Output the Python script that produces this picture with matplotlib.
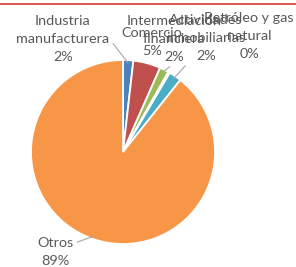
import numpy as np
import matplotlib
matplotlib.use('Agg')
import matplotlib.pyplot as plt
from matplotlib.lines import Line2D

# sector shares (%)
sectores = ['Industria\nmanufacturera', 'Comercio', 'Intermediación\nfinanciera',
            'Petróleo y gas\nnatural', 'Actividades\ninmobiliarias', 'Otros']
valores = [1.8, 4.8, 1.6, 0.3, 2.2, 89.3]
colores = ['#4F81BD', '#C0504D', '#9BBB59', '#8064A2', '#4BACC6', '#F79646']

# label centre positions in figure pixels (from top-left) and where the leader leaves the text
label_pos = [(63, 39), (152, 42), (174, 39), (249, 36), (206, 38), (55, 252)]
leader_rel = [(1.0, 0.5), None, (0.5, 0.0), None, (0.3, 0.03), (1.0, 0.78)]

plt.rcParams['font.family'] = ['Lato', 'DejaVu Sans']

W, H = 296, 267
fig = plt.figure(figsize=(W / 100, H / 100), dpi=100)
cx, cy, r = 123, 152, 92
ax = fig.add_axes([(cx - r) / W, (H - cy - r) / H, 2 * r / W, 2 * r / H])
wedges, _ = ax.pie(valores, colors=colores, startangle=90, counterclock=False,
                   wedgeprops=dict(edgecolor='white', linewidth=1.3))
ax.set_xlim(-1, 1)
ax.set_ylim(-1, 1)
ax.set_aspect('equal')
ax.axis('off')

fs = 10.4
ls = 1.6
for w, nombre, v, (lx, ly), rel in zip(wedges, sectores, valores, label_pos, leader_rel):
    txt = f'{nombre}\n{round(v)}%'
    ang = np.deg2rad((w.theta1 + w.theta2) / 2)
    xy = (0.97 * np.cos(ang), 0.97 * np.sin(ang))
    if rel is not None:
        ax.annotate(txt, xy=xy, xytext=(lx, H - ly), textcoords='figure pixels',
                    ha='center', va='center', fontsize=fs, color='#595959',
                    linespacing=ls,
                    arrowprops=dict(arrowstyle='-', color='#A6A6A6', lw=0.8,
                                    shrinkA=1, shrinkB=0, relpos=rel))
    else:
        fig.text(lx / W, 1 - ly / H, txt, ha='center', va='center', fontsize=fs,
                 color='#595959', linespacing=ls)

# red rule at top
fig.add_artist(Line2D([0, 1], [1 - 3.5 / H, 1 - 3.5 / H], color='#D9383A', lw=1.2))

fig.savefig('out.png', dpi=100)
